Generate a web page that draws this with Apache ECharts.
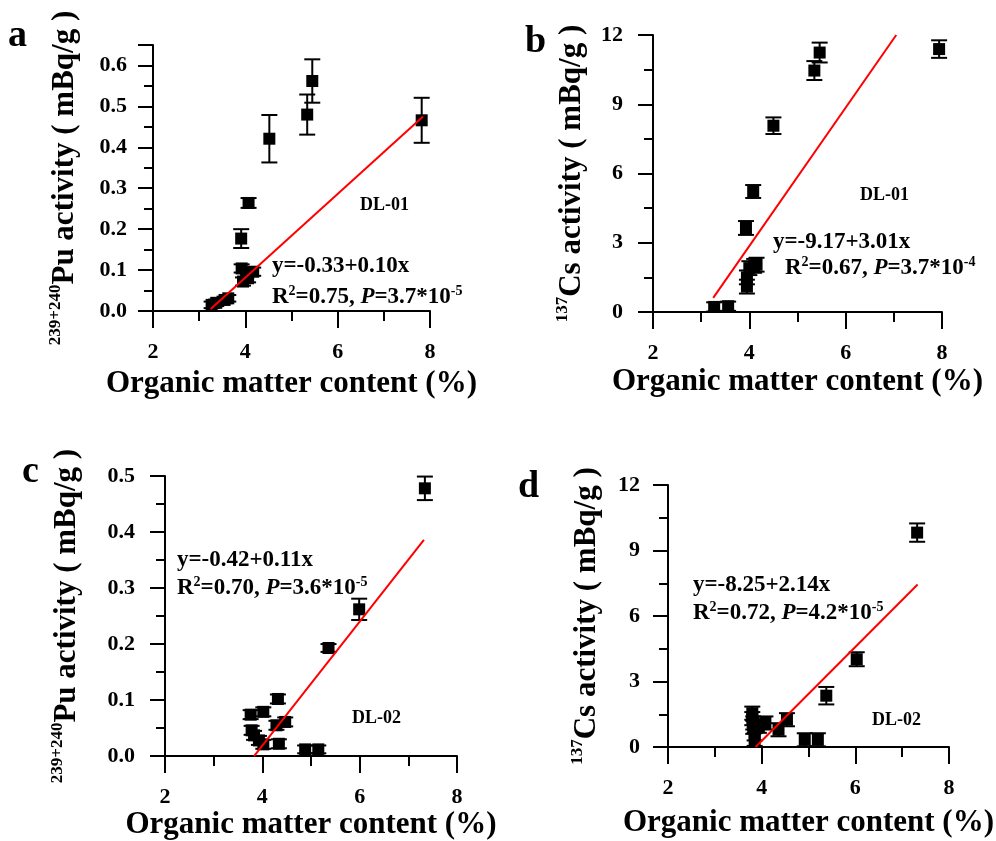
<!DOCTYPE html>
<html>
<head>
<meta charset="utf-8">
<script src="https://cdn.jsdelivr.net/npm/echarts@6/dist/echarts.min.js"></script>
<style>
  html, body { margin: 0; background: #fff; }
  #chart { width: 996px; height: 841px; }
</style>
</head>
<body>
<div id="chart"></div>
<script>
// a: 239+240Pu, DL-01
const aOrganic = [3.27, 3.37, 3.55, 3.63, 3.92, 3.95, 4.02, 4.06, 4.17, 3.91, 4.07, 4.52, 5.34, 5.45, 7.82];
const aActivity = [0.015, 0.02, 0.027, 0.031, 0.104, 0.072, 0.092, 0.08, 0.096, 0.177, 0.264, 0.421, 0.48, 0.562, 0.466];
const aError = [0.008, 0.008, 0.008, 0.008, 0.01, 0.01, 0.01, 0.01, 0.01, 0.023, 0.012, 0.058, 0.049, 0.053, 0.055];
const aFitX = [3.25, 7.85];
const aFitY = [0.005, 0.475];

// b: 137Cs, DL-01
const bOrganic = [3.27, 3.56, 3.95, 3.95, 4.0, 4.1, 4.15, 3.93, 4.08, 4.5, 5.35, 5.46, 7.94];
const bActivity = [0.22, 0.25, 1.1, 1.5, 1.9, 2.0, 2.05, 3.64, 5.22, 8.07, 10.46, 11.24, 11.39];
const bError = [0.2, 0.2, 0.3, 0.3, 0.3, 0.3, 0.3, 0.3, 0.28, 0.36, 0.41, 0.43, 0.38];
const bFitX = [3.25, 7.05];
const bFitY = [0.61, 12.0];

// c: 239+240Pu, DL-02
const cOrganic = [3.76, 3.78, 3.83, 3.93, 4.02, 4.02, 4.29, 4.32, 4.34, 4.47, 4.88, 5.15, 5.36, 5.99, 7.34];
const cActivity = [0.074, 0.046, 0.037, 0.028, 0.021, 0.079, 0.055, 0.102, 0.022, 0.061, 0.012, 0.012, 0.193, 0.262, 0.478];
const cError = [0.008, 0.008, 0.008, 0.008, 0.008, 0.008, 0.008, 0.008, 0.008, 0.008, 0.007, 0.007, 0.007, 0.019, 0.021];
const cFitX = [3.83, 7.32];
const cFitY = [0.0, 0.386];

// d: 137Cs, DL-02
const dOrganic = [3.8, 3.8, 3.82, 3.82, 3.85, 3.85, 3.94, 4.08, 4.36, 4.54, 4.92, 5.2, 5.38, 6.03, 7.32];
const dActivity = [1.55, 1.3, 1.1, 0.9, 0.6, 0.35, 0.95, 1.1, 0.79, 1.25, 0.33, 0.33, 2.35, 4.02, 9.82];
const dError = [0.3, 0.3, 0.3, 0.3, 0.3, 0.3, 0.3, 0.3, 0.3, 0.3, 0.3, 0.3, 0.4, 0.32, 0.42];
const dFitX = [3.87, 7.33];
const dFitY = [0.0, 7.44];

// tick labels
const organicTicks = [2, 4, 6, 8];
const puTicksA = [0, 0.1, 0.2, 0.3, 0.4, 0.5, 0.6];
const puTicksC = [0, 0.1, 0.2, 0.3, 0.4, 0.5];
const csTicks = [0, 3, 6, 9, 12];

const FONT = "'Liberation Serif', 'Times New Roman', serif";
const PU_NAME = '{sup|239+240}{main|Pu activity ( mBq/g )}';
const CS_NAME = '{sup|137}{main|Cs activity ( mBq/g )}';

const panels = [
  { x: aOrganic, y: aActivity, err: aError, fitX: aFitX, fitY: aFitY,
    grid: { left: 153, top: 45, width: 277, height: 266 },
    yMax: 0.65, yTicks: puTicksA, yMinor: 0.05, digits: 1, yName: PU_NAME,
    yGap: 70, yMargin: 26, xGap: 57 },
  { x: bOrganic, y: bActivity, err: bError, fitX: bFitX, fitY: bFitY,
    grid: { left: 653, top: 35, width: 289, height: 277 },
    yMax: 12, yTicks: csTicks, yMinor: 1.5, digits: 0, yName: CS_NAME,
    yGap: 63, yMargin: 30, xGap: 54 },
  { x: cOrganic, y: cActivity, err: cError, fitX: cFitX, fitY: cFitY,
    grid: { left: 165, top: 476, width: 292, height: 282 },
    yMax: 0.5, yTicks: puTicksC, yMinor: 0.05, digits: 1, yName: PU_NAME,
    yGap: 80, yMargin: 30, xGap: 48 },
  { x: dOrganic, y: dActivity, err: dError, fitX: dFitX, fitY: dFitY,
    grid: { left: 668, top: 485, width: 285, height: 262 },
    yMax: 12, yTicks: csTicks, yMinor: 1.5, digits: 0, yName: CS_NAME,
    yGap: 63, yMargin: 28, xGap: 60 }
];

const black = '#000';
const axisLine = { show: true, onZero: false, lineStyle: { color: black, width: 2 } };
const labelStyle = { color: black, fontFamily: FONT, fontWeight: 'bold', fontSize: 22 };

function errorBar(params, api) {
  const x = api.value(0);
  const y = api.value(1);
  const e = api.value(2);
  const hi = api.coord([x, y + e]);
  const lo = api.coord([x, y - e]);
  const half = 8;
  const style = { stroke: black, lineWidth: 2 };
  return {
    type: 'group',
    children: [
      { type: 'line', shape: { x1: hi[0], y1: hi[1], x2: lo[0], y2: lo[1] }, style },
      { type: 'line', shape: { x1: hi[0] - half, y1: hi[1], x2: hi[0] + half, y2: hi[1] }, style },
      { type: 'line', shape: { x1: lo[0] - half, y1: lo[1], x2: lo[0] + half, y2: lo[1] }, style }
    ]
  };
}

const grids = [];
const xAxes = [];
const yAxes = [];
const series = [];
const graphics = [];

panels.forEach((p, i) => {
  grids.push(p.grid);

  xAxes[i] = {
    type: 'value', gridIndex: i, min: 2, max: 8, interval: 2,
    axisLine,
    axisTick: { show: true, length: 17, lineStyle: { color: black, width: 2 } },
    axisLabel: { ...labelStyle, margin: 30, customValues: organicTicks },
    splitLine: { show: false },
    name: 'Organic matter content (%)', nameLocation: 'middle', nameGap: p.xGap,
    nameTextStyle: { color: black, fontFamily: FONT, fontWeight: 'bold', fontSize: 31 }
  };
  // minor ticks drawn by a second, bare axis on the same grid
  xAxes[i + 4] = {
    type: 'value', gridIndex: i, min: 2, max: 8, interval: 1, position: 'bottom',
    axisLine: { show: false }, axisLabel: { show: false }, splitLine: { show: false },
    axisTick: { show: true, length: 10, lineStyle: { color: black, width: 2 } }
  };

  yAxes[i] = {
    type: 'value', gridIndex: i, min: 0, max: p.yMax, interval: p.yMinor * 2,
    axisLine,
    axisTick: { show: true, length: 15, lineStyle: { color: black, width: 2 } },
    axisLabel: { ...labelStyle, margin: p.yMargin, customValues: p.yTicks,
      formatter: (v) => v.toFixed(p.digits) },
    splitLine: { show: false },
    name: p.yName, nameLocation: 'middle', nameGap: p.yGap, nameRotate: 90,
    nameTextStyle: {
      rich: {
        main: { color: black, fontFamily: FONT, fontWeight: 'bold', fontSize: 31, lineHeight: 36 },
        sup: { color: black, fontFamily: FONT, fontWeight: 'bold', fontSize: 17, lineHeight: 19, verticalAlign: 'top' }
      }
    }
  };
  yAxes[i + 4] = {
    type: 'value', gridIndex: i, min: 0, max: p.yMax, interval: p.yMinor, position: 'left',
    axisLine: { show: false }, axisLabel: { show: false }, splitLine: { show: false },
    axisTick: { show: true, length: 9, lineStyle: { color: black, width: 2 } }
  };

  const points = p.x.map((v, k) => [v, p.y[k], p.err[k]]);
  series.push({
    type: 'custom', xAxisIndex: i, yAxisIndex: i,
    renderItem: errorBar, encode: { x: 0, y: 1 }, data: points, z: 2
  });
  series.push({
    type: 'scatter', xAxisIndex: i, yAxisIndex: i,
    symbol: 'rect', symbolSize: 12, itemStyle: { color: black, opacity: 1 },
    data: points.map((d) => [d[0], d[1]]), z: 3
  });
  series.push({
    type: 'line', xAxisIndex: i, yAxisIndex: i, showSymbol: false, z: 4,
    lineStyle: { color: '#ff0000', width: 2 },
    data: p.fitX.map((v, k) => [v, p.fitY[k]])
  });
});

const eqRich = {
  t: { fill: black, fontFamily: FONT, fontWeight: 'bold', fontSize: 23, lineHeight: 26 },
  i: { fill: black, fontFamily: FONT, fontWeight: 'bold', fontStyle: 'italic', fontSize: 23, lineHeight: 26 },
  s: { fill: black, fontFamily: FONT, fontWeight: 'bold', fontSize: 14, lineHeight: 14, verticalAlign: 'top' }
};

function text(x, y, str, size, rich) {
  return {
    type: 'text', x, y, z: 10,
    style: {
      text: str, fill: black, verticalAlign: 'middle', align: 'left',
      font: 'bold ' + size + 'px ' + FONT, rich
    }
  };
}

const equations = [
  ['y=-0.33+0.10x', '{t|R}{s|2}{t|=0.75, }{i|P}{t|=3.7*10}{s|-5}', 272, 266, 272, 297],
  ['y=-9.17+3.01x', '{t|R}{s|2}{t|=0.67, }{i|P}{t|=3.7*10}{s|-4}', 773, 242, 785, 268],
  ['y=-0.42+0.11x', '{t|R}{s|2}{t|=0.70, }{i|P}{t|=3.6*10}{s|-5}', 177, 560, 177, 588],
  ['y=-8.25+2.14x', '{t|R}{s|2}{t|=0.72, }{i|P}{t|=4.2*10}{s|-5}', 693, 585, 693, 613]
];
equations.forEach((e) => {
  graphics.push(text(e[2], e[3], '{t|' + e[0] + '}', 23, eqRich));
  graphics.push(text(e[4], e[5], e[1], 23, eqRich));
});

const sites = [['DL-01', 360, 205], ['DL-01', 860, 195], ['DL-02', 352, 718], ['DL-02', 872, 720]];
sites.forEach((s) => graphics.push(text(s[1], s[2], s[0], 18)));

const letters = [['a', 8, 36], ['b', 525, 42], ['c', 22, 472], ['d', 518, 487]];
letters.forEach((l) => graphics.push(text(l[1], l[2], l[0], 38)));

const chart = echarts.init(document.getElementById('chart'), null, { renderer: 'canvas' });
chart.setOption({
  animation: false,
  backgroundColor: '#fff',
  grid: grids,
  xAxis: xAxes,
  yAxis: yAxes,
  series,
  graphic: graphics
});
</script>
</body>
</html>
